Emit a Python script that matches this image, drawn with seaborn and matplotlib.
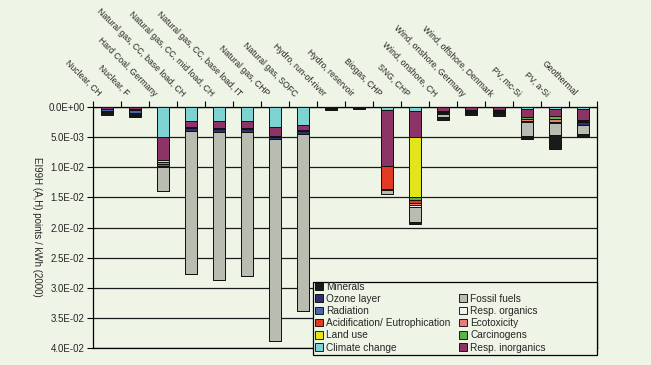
import numpy as np
import pandas as pd
import matplotlib
matplotlib.use("Agg")
import matplotlib.pyplot as plt
import seaborn as sns
from matplotlib.patches import Patch, Rectangle
from matplotlib.ticker import FuncFormatter, FixedLocator
from matplotlib.transforms import ScaledTranslation

# ---------------- data (values in units of 1E-03 points / kWh) ----------------
technologies = [
    "Nuclear, CH", "Nuclear, F", "Hard Coal, Germany",
    "Natural gas, CC, base load, CH", "Natural gas, CC, mid load, CH",
    "Natural gas, CC, base load, IT", "Natural gas, CHP", "Natural gas, SOFC",
    "Hydro, run-of-river", "Hydro, reservoir", "Biogas, CHP", "SNG, CHP",
    "Wind, onshore, CH", "Wind, onshore, Germany", "Wind, offshore, Denmark",
    "PV, mc-Si", "PV, a-Si", "Geothermal",
]
SCALE = 1e-3

climate_change   = [0.05, 0.05, 4.95, 2.30, 2.40, 2.40, 3.40, 2.97, 0.05, 0.03, 0.44, 0.60, 0.05, 0.05, 0.05, 0.33, 0.38, 0.33]
resp_inorganics  = [0.25, 0.30, 3.80, 1.10, 1.15, 1.15, 1.43, 0.93, 0.15, 0.08, 9.35, 4.35, 0.65, 0.45, 0.50, 1.32, 1.15, 1.87]
land_use         = [0.00, 0.00, 0.40, 0.00, 0.00, 0.00, 0.00, 0.00, 0.00, 0.00, 0.00, 10.07, 0.00, 0.00, 0.00, 0.00, 0.00, 0.00]
carcinogens      = [0.05, 0.05, 0.30, 0.02, 0.02, 0.02, 0.02, 0.02, 0.02, 0.01, 0.05, 0.44, 0.05, 0.03, 0.03, 0.27, 0.44, 0.10]
acidification    = [0.02, 0.02, 0.35, 0.03, 0.03, 0.03, 0.03, 0.03, 0.01, 0.01, 3.70, 0.44, 0.03, 0.02, 0.02, 0.05, 0.05, 0.05]
ecotoxicity      = [0.02, 0.02, 0.10, 0.01, 0.01, 0.01, 0.01, 0.01, 0.03, 0.01, 0.02, 0.38, 0.25, 0.15, 0.15, 0.38, 0.50, 0.17]
radiation        = [0.30, 0.60, 0.05, 0.01, 0.01, 0.01, 0.01, 0.01, 0.00, 0.00, 0.01, 0.05, 0.02, 0.01, 0.01, 0.05, 0.05, 0.02]
resp_organics    = [0.01, 0.10, 0.02, 0.01, 0.01, 0.01, 0.01, 0.01, 0.00, 0.00, 0.01, 0.20, 0.10, 0.02, 0.02, 0.02, 0.02, 0.02]
ozone_layer      = [0.20, 0.20, 0.05, 0.45, 0.45, 0.55, 0.45, 0.45, 0.02, 0.01, 0.20, 0.05, 0.02, 0.02, 0.02, 0.02, 0.02, 0.50]
fossil_fuels     = [0.15, 0.15, 3.90, 23.75, 24.60, 23.80, 33.50, 29.35, 0.10, 0.05, 0.66, 2.53, 0.50, 0.20, 0.25, 2.42, 1.98, 1.48]
minerals         = [0.30, 0.15, 0.05, 0.02, 0.02, 0.02, 0.02, 0.02, 0.15, 0.12, 0.02, 0.27, 0.55, 0.30, 0.50, 0.44, 2.42, 0.38]

# stacking order (from the axis outward)
series = [
    ("Climate change", climate_change, "#7fd2d2"),
    ("Resp. inorganics", resp_inorganics, "#8c3466"),
    ("Land use", land_use, "#e4e41a"),
    ("Carcinogens", carcinogens, "#5cb244"),
    ("Acidification/ Eutrophication", acidification, "#e23a22"),
    ("Ecotoxicity", ecotoxicity, "#e97b7b"),
    ("Radiation", radiation, "#4468aa"),
    ("Resp. organics", resp_organics, "#eef4ee"),
    ("Ozone layer", ozone_layer, "#2c2f70"),
    ("Fossil fuels", fossil_fuels, "#b9bdb1"),
    ("Minerals", minerals, "#1a1a1a"),
]
colors = {n: c for n, _, c in series}

BG = "#eef5e6"
sns.set_theme(style="white")
plt.rcParams["font.family"] = ["Liberation Sans", "DejaVu Sans"]
plt.rcParams["font.size"] = 7

W, H = 651, 365
fig = plt.figure(figsize=(W / 100, H / 100), dpi=100, facecolor=BG)
ax = fig.add_axes([93 / W, 1 - 348 / H, (597 - 93) / W, (348 - 107) / H])
ax.set_facecolor(BG)

df = pd.DataFrame({"technology": technologies})
cum = np.zeros(len(technologies))
for name, vals, _ in series:
    cum = cum + np.asarray(vals) * SCALE
    df[name] = cum.copy()

for name, _, col in reversed(series):
    sns.barplot(data=df, x="technology", y=name, order=technologies, color=col,
                saturation=1, width=0.43, edgecolor="#111111", linewidth=0.7,
                errorbar=None, ax=ax, zorder=3)

ax.set_xlim(-0.5, len(technologies) - 0.5)
ax.set_ylim(0.04, 0)
ax.yaxis.set_major_locator(FixedLocator(np.arange(0, 0.04001, 0.005)))
ax.yaxis.set_major_formatter(FuncFormatter(lambda v, _: f"{v:.1E}"))
ax.set_axisbelow(True)
ax.yaxis.grid(True, color="#1a1a1a", linewidth=0.9)
ax.xaxis.grid(False)
ax.tick_params(axis="y", which="major", length=4, width=0.8, direction="out",
               color="black", labelsize=7, pad=2, left=True)

ax.xaxis.tick_top()
ax.set_xticks(range(len(technologies)))
ax.set_xticklabels(technologies, rotation=-45, ha="right", va="top",
                   rotation_mode="anchor", fontsize=6.2)
ax.xaxis.set_minor_locator(FixedLocator(np.arange(-0.5, len(technologies), 1.0)))
ax.tick_params(axis="x", which="major", length=0, pad=11, top=True, labeltop=True,
               bottom=False, labelbottom=False)
ax.tick_params(axis="x", which="minor", length=4, width=0.8, direction="out",
               color="black", top=True, bottom=False)
ax.set_xlabel("")
ax.set_ylabel("")
for s in ax.spines.values():
    s.set_visible(True)
    s.set_color("black")
    s.set_linewidth(0.9)

shift = ScaledTranslation(-4 / 100, 0, fig.dpi_scale_trans)
for lbl in ax.get_xticklabels():
    lbl.set_transform(lbl.get_transform() + shift)

fig.text(37 / W, 1 - 227 / H, "EI99H (A,H) points / kWh (2000)", rotation=-90,
         ha="center", va="center", fontsize=7)

# legend box
fig.patches.append(Rectangle((313 / W, 1 - 355 / H), (597 - 313) / W, (355 - 282) / H,
                             transform=fig.transFigure, facecolor=BG,
                             edgecolor="black", linewidth=0.9, zorder=4))
left_col = ["Minerals", "Ozone layer", "Radiation", "Acidification/ Eutrophication",
            "Land use", "Climate change"]
right_col = [None, "Fossil fuels", "Resp. organics", "Ecotoxicity", "Carcinogens",
             "Resp. inorganics"]
handles, labels = [], []
for n in left_col + right_col:
    if n is None:
        handles.append(Patch(facecolor="none", edgecolor="none"))
        labels.append("")
    else:
        handles.append(Patch(facecolor=colors[n], edgecolor="black", linewidth=0.6))
        labels.append(n)
fig.legend(handles, labels, ncol=2, loc="upper left",
           bbox_to_anchor=(314 / W, 1 - 280.5 / H), frameon=False, fontsize=7.3,
           handlelength=0.75, handleheight=0.75, handletextpad=0.35,
           labelspacing=0.22, columnspacing=0.85, borderpad=0.1, borderaxespad=0)

fig.savefig("out.png", dpi=100, facecolor=BG)
